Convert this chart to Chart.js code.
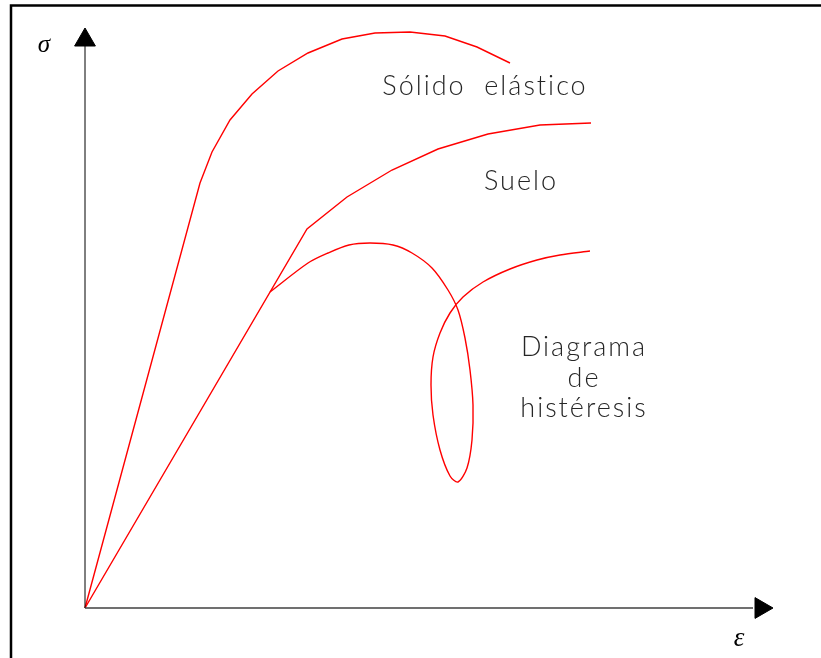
<!DOCTYPE html>
<html>
<head>
<meta charset="utf-8">
<script src="https://cdn.jsdelivr.net/npm/chart.js@4/dist/chart.umd.min.js"></script>
<style>
  html, body { margin: 0; padding: 0; background: #fff; }
  canvas { display: block; }
</style>
</head>
<body>
<canvas id="c" width="821" height="658"></canvas>
<script>
// Strain (x) / stress (y) in drawing units, origin at the axes crossing
const solidoX = [0, 115, 127, 145, 167, 193, 223, 257, 290, 325, 360, 392, 425];
const solidoY = [0, 425, 456, 488, 514, 537, 555, 569, 575, 576, 572, 561, 545];

const sueloX = [0, 222, 262, 307, 353, 403, 455, 506];
const sueloY = [0, 379, 411, 438, 459, 474, 483, 485];

// hysteresis branch (starts on the soil line at the junction point)
const histX = [185, 223, 243, 264, 285, 308, 327, 347, 363, 373, 380, 385, 388, 387, 382, 373, 365, 355, 348, 346, 348, 355, 365, 378, 398, 425, 452, 475, 505];
const histY = [316, 345, 355, 363, 365, 363, 355, 340, 318, 298, 270, 238, 203, 168, 140, 126, 132, 158, 193, 223, 251, 275, 295, 311, 326, 339, 348, 353, 357];

// axes
const axisYLine = [{x: 0, y: 0}, {x: 0, y: 562}];
const axisXLine = [{x: 0, y: 0}, {x: 668, y: 0}];
const arrowY = [{x: 0, y: 568}];
const arrowX = [{x: 676, y: 0}];

const labels = [
  {text: 'Sólido  elástico', x: 400, y: 513},
  {text: 'Suelo', x: 436, y: 418},
  {text: 'Diagrama', x: 499, y: 252},
  {text: 'de', x: 499, y: 221},
  {text: 'histéresis', x: 499, y: 191}
];
const axisSymbols = [
  {text: 'σ', x: -41, y: 556, size: 25},
  {text: 'ε', x: 654, y: -38, size: 27}
];

const zip = (xs, ys) => xs.map((x, i) => ({x, y: ys[i]}));

const decor = {
  id: 'decor',
  beforeDraw(chart) {
    const ctx = chart.ctx;
    ctx.save();
    ctx.fillStyle = '#fff';
    ctx.fillRect(0, 0, chart.width, chart.height);
    ctx.strokeStyle = '#000';
    ctx.lineWidth = 2.5;
    ctx.beginPath();
    ctx.moveTo(11, 658);
    ctx.lineTo(11, 5.5);
    ctx.lineTo(821, 5.5);
    ctx.stroke();
    ctx.restore();
  },
  afterDraw(chart) {
    const ctx = chart.ctx;
    const xs = chart.scales.x, ys = chart.scales.y;
    ctx.save();
    ctx.fillStyle = '#262626';
    ctx.textAlign = 'center';
    ctx.textBaseline = 'alphabetic';
    ctx.font = '300 27px Lato, "Open Sans", sans-serif';
    ctx.letterSpacing = '2px';
    labels.forEach(l => {
      ctx.fillText(l.text, xs.getPixelForValue(l.x), ys.getPixelForValue(l.y));
    });
    ctx.letterSpacing = '0px';
    ctx.fillStyle = '#000';
    axisSymbols.forEach(s => {
      ctx.font = 'italic ' + s.size + 'px "Liberation Serif", "DejaVu Serif", serif';
      ctx.fillText(s.text, xs.getPixelForValue(s.x), ys.getPixelForValue(s.y));
    });
    ctx.restore();
  }
};

const lineDs = (data, tension) => ({
  data, showLine: true, borderColor: '#ff0000', borderWidth: 1.4,
  pointRadius: 0, tension, fill: false
});

new Chart(document.getElementById('c'), {
  type: 'scatter',
  data: {
    datasets: [
      {data: axisYLine, showLine: true, borderColor: '#000', borderWidth: 1, pointRadius: 0},
      {data: axisXLine, showLine: true, borderColor: '#707070', borderWidth: 2, pointRadius: 0},
      {data: arrowY, pointStyle: 'triangle', pointRadius: 12, rotation: 0, backgroundColor: '#000', borderColor: '#000', borderWidth: 1},
      {data: arrowX, pointStyle: 'triangle', pointRadius: 12, rotation: 90, backgroundColor: '#000', borderColor: '#000', borderWidth: 1},
      lineDs(zip(solidoX, solidoY), 0),
      lineDs(zip(sueloX, sueloY), 0),
      lineDs(zip(histX, histY), 0.3)
    ]
  },
  options: {
    responsive: false,
    animation: false,
    devicePixelRatio: 1,
    layout: {autoPadding: false, padding: {left: 85, right: 0, top: 0, bottom: 50}},
    scales: {
      x: {type: 'linear', min: 0, max: 736, display: false},
      y: {type: 'linear', min: 0, max: 608, display: false}
    },
    plugins: {legend: {display: false}, tooltip: {enabled: false}},
    clip: false
  },
  plugins: [decor]
});
</script>
</body>
</html>
